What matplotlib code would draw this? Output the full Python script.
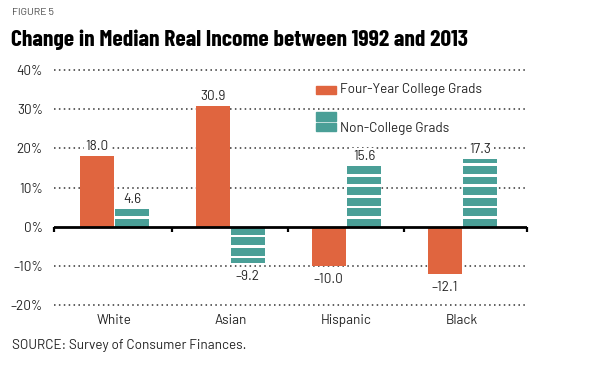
import matplotlib
matplotlib.use("Agg")
import matplotlib.pyplot as plt
from matplotlib.patches import Rectangle
import numpy as np

# dados
grupos = ["White", "Asian", "Hispanic", "Black"]
college = [18.0, 30.9, -10.0, -12.1]
non_college = [4.6, -9.2, 15.6, 17.3]
yticks = [-20, -10, 0, 10, 20, 30, 40]
ytick_labels = ["\u201320%", "\u201310%", "0%", "10%", "20%", "30%", "40%"]

laranja = "#e0653f"
verde = "#4a9f97"
texto = "#222222"
fs = 9.7

plt.rcParams["font.family"] = ["Barlow", "DejaVu Sans"]

fig = plt.figure(figsize=(5.9, 3.69), dpi=100)
ax = fig.add_axes([0.0914, 0.1734, 0.8022, 0.6369])

x = np.arange(len(grupos))
w = 0.292
off = 0.152
xlim = (-0.52, 3.56)

# grade pontilhada
for yv in yticks:
    if yv != 0:
        ax.axhline(yv, color="#333333", lw=1.1, ls=(0, (1, 2.2)), zorder=0, clip_on=False)

# barras laranja
ax.bar(x - off, college, w, color=laranja, zorder=2)

# barras listradas (faixas de 2.0 com espaço de 0.7)
passo, faixa = 2.7, 2.0
for xi, v in zip(x + off, non_college):
    s = np.sign(v)
    k = 0
    while k * passo < abs(v):
        a = k * passo
        b = min(a + faixa, abs(v))
        ax.bar(xi, s * (b - a), w, bottom=s * a, color=verde, zorder=2)
        k += 1

# linha do zero e marcas
ax.axhline(0, color="black", lw=2, zorder=3)
marcas = [xlim[0]] + list(x[:-1] + 0.5) + [xlim[1]]
ax.vlines(marcas, -1.4, 0, color="black", lw=1.6, zorder=3, clip_on=False)

# rótulos dos valores
def fmt(v):
    return ("%.1f" % v).replace("-", "\u2013")

for xs, vals in ((x - off, college), (x + off, non_college)):
    for xi, v in zip(xs, vals):
        if v >= 0:
            ax.annotate(fmt(v), (xi, v), xytext=(0, 2), textcoords="offset points",
                        ha="center", va="bottom", fontsize=fs, color=texto, zorder=4,
                        bbox=dict(fc="white", ec="none", pad=1))
        else:
            ax.annotate(fmt(v), (xi, v), xytext=(0, -5), textcoords="offset points",
                        ha="center", va="top", fontsize=fs, color=texto, zorder=4,
                        bbox=dict(fc="white", ec="none", pad=1))

ax.set_xlim(*xlim)
ax.set_ylim(-20, 40)
ax.set_yticks(yticks)
ax.set_yticklabels(ytick_labels, fontsize=fs, color=texto)
ax.set_xticks(x)
ax.set_xticklabels(grupos, fontsize=fs, color=texto)
ax.tick_params(axis="both", length=0)
ax.tick_params(axis="y", pad=8)
ax.tick_params(axis="x", pad=6.5)
for sp in ax.spines.values():
    sp.set_visible(False)

# legenda manual
ax.add_patch(Rectangle((0.553, 0.9), 0.042, 0.03, transform=ax.transAxes,
                       color=laranja, clip_on=False, zorder=5))
ax.text(0.604, 0.915, "Four-Year College Grads", transform=ax.transAxes,
        va="center", fontsize=fs, color=texto)
ax.add_patch(Rectangle((0.553, 0.785), 0.042, 0.035, transform=ax.transAxes,
                       color=verde, clip_on=False, zorder=5))
ax.add_patch(Rectangle((0.553, 0.74), 0.042, 0.035, transform=ax.transAxes,
                       color=verde, clip_on=False, zorder=5))
ax.text(0.604, 0.752, "Non-College Grads", transform=ax.transAxes,
        va="center", fontsize=fs, color=texto)

# títulos
fig.text(0.02, 0.965, "FIGURE 5", fontsize=7.5, color="#444444", va="center")
fig.text(0.018, 0.893, "Change in Median Real Income between 1992 and 2013",
         fontsize=17, fontweight="bold", va="center",
         family=["Barlow Condensed", "DejaVu Sans"])
fig.text(0.02, 0.065, "SOURCE: Survey of Consumer Finances.", fontsize=fs,
         color=texto, va="center")

fig.savefig("out.png", dpi=100)
